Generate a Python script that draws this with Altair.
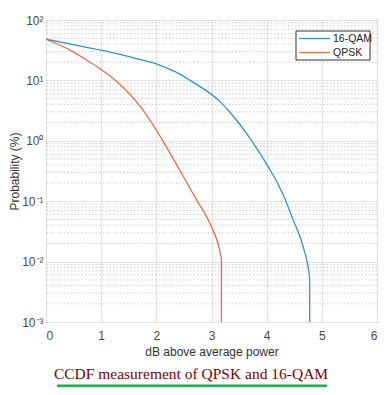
import altair as alt
import pandas as pd

# ---- data ----
qam_x = [0, 0.5, 1.0, 1.67, 2.07, 2.35, 2.61, 3.15, 3.33, 3.73, 4.03, 4.24, 4.33, 4.48, 4.65, 4.78, 4.78]
qam_y = [48, 39, 31.6, 22.6, 17.8, 13.8, 10, 4.5, 3.0, 1.0, 0.37, 0.166, 0.11, 0.049, 0.019, 0.0052, 0.001]

qpsk_x = [0, 0.43, 0.8, 1.0, 1.25, 1.5, 1.73, 2.0, 2.43, 2.73, 2.97, 3.18, 3.18]
qpsk_y = [48, 32, 20, 15.2, 10.2, 6.2, 3.5, 1.5, 0.32, 0.105, 0.043, 0.011, 0.001]

series_names = ["16-QAM", "QPSK"]
series_colors = ["#3a8fd0", "#e0704a"]

y_ticks = [0.001, 0.01, 0.1, 1, 10, 100]
x_ticks = [0, 1, 2, 3, 4, 5, 6]
minor_y = [k * 10.0 ** e for e in range(-3, 2) for k in range(2, 10)]

x_title = "dB above average power"
y_title = "Probability (%)"
caption = "CCDF measurement of QPSK and 16-QAM"

df = pd.concat([
    pd.DataFrame({"x": qam_x, "y": qam_y, "series": series_names[0], "order": range(len(qam_x))}),
    pd.DataFrame({"x": qpsk_x, "y": qpsk_y, "series": series_names[1], "order": range(len(qpsk_x))}),
])

label_expr = (
    "datum.value >= 99 ? '10²' : datum.value >= 9 ? '10¹' : datum.value >= 0.9 ? '10⁰' : "
    "datum.value >= 0.09 ? '10⁻¹' : datum.value >= 0.009 ? '10⁻²' : '10⁻³'"
)

y_scale = alt.Scale(type="log", domain=[0.001, 100], nice=False)
x_scale = alt.Scale(domain=[0, 6], nice=False)
color_scale = alt.Scale(domain=series_names, range=series_colors)

y_axis = alt.Axis(values=y_ticks, labelExpr=label_expr, grid=True, gridColor="#e2e2e2",
                  gridWidth=1.2, ticks=False, domain=False, labelPadding=3,
                  labelFontSize=12, labelColor="#4a4a4a", labelFont="Liberation Sans",
                  titleFont="Liberation Sans", titleFontSize=12, titleFontWeight="normal",
                  titleColor="#333333", titlePadding=0)
x_axis = alt.Axis(values=x_ticks, format="d", grid=True, gridColor="#e2e2e2",
                  gridWidth=1.2, ticks=False, domain=False, labelPadding=8,
                  labelFontSize=12, labelColor="#4a4a4a", labelFont="Liberation Sans",
                  titleFont="Liberation Sans", titleFontSize=12, titleFontWeight="normal",
                  titleColor="#333333", titlePadding=5)

minor = alt.Chart(pd.DataFrame({"m": minor_y})).mark_rule(
    color="#cfcfcf", strokeDash=[1.5, 2], strokeWidth=1
).encode(y=alt.Y("m:Q", scale=y_scale, title=y_title, axis=y_axis))

lines = alt.Chart(df).mark_line(strokeWidth=1.3, interpolate="monotone").encode(
    x=alt.X("x:Q", scale=x_scale, title=x_title, axis=x_axis),
    y=alt.Y("y:Q", scale=y_scale, title=y_title, axis=y_axis),
    color=alt.Color("series:N", scale=color_scale, legend=None),
    order="order:Q",
)

# legend box drawn in the upper right corner
legend_layers = [
    alt.Chart(pd.DataFrame({"a": [0]})).mark_rect(fill="white", stroke="#333333", strokeWidth=1).encode(
        x=alt.value(250), x2=alt.value(324), y=alt.value(11), y2=alt.value(40)
    )
]
for i, name in enumerate(series_names):
    row = pd.DataFrame({"series": [name]})
    legend_layers.append(
        alt.Chart(row).mark_rule(strokeWidth=1.3).encode(
            x=alt.value(253), x2=alt.value(284), y=alt.value(18.5 + 14 * i),
            color=alt.Color("series:N", scale=color_scale, legend=None),
        )
    )
    legend_layers.append(
        alt.Chart(row).mark_text(font="Liberation Sans", fontSize=10.5, color="#222222",
                                 align="left", baseline="middle").encode(
            x=alt.value(287), y=alt.value(19 + 14 * i), text="series:N"
        )
    )

title_text = alt.Chart(pd.DataFrame({"t": [caption]})).mark_text(
    font="Liberation Serif", fontSize=15.5, color="#7a0000", align="center", baseline="middle"
).encode(text="t:N", x=alt.value(145), y=alt.value(354))

underline = alt.Chart(pd.DataFrame({"a": [0]})).mark_rule(color="#1fae4b", strokeWidth=3).encode(
    x=alt.value(11), x2=alt.value(281), y=alt.value(366)
)

chart = alt.layer(minor, lines, *legend_layers, title_text, underline).properties(
    width=331, height=302,
    padding={"left": 38, "top": 12, "right": 7, "bottom": 65},
    autosize=alt.AutoSizeParams(type="none"),
).configure_view(stroke="#555555", strokeWidth=1)

chart.save("out.html", embed_options={"renderer": "svg", "actions": False})
